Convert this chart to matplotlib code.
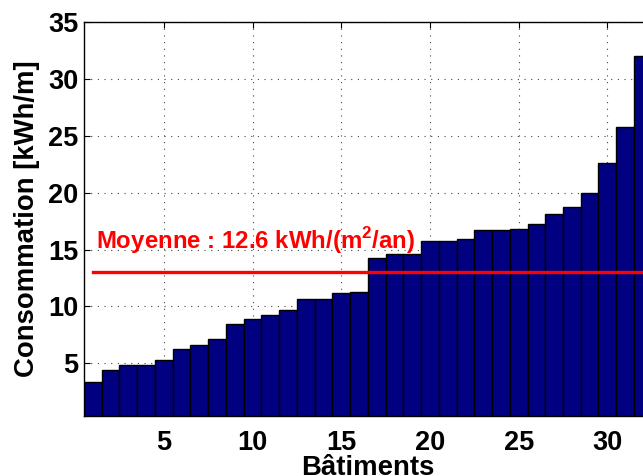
import numpy as np
import matplotlib
matplotlib.use('Agg')
import matplotlib.pyplot as plt

# ── data ────────────────────────────────────────────────────────────────────
batiments = np.arange(1, 33)
consommation = [3.39, 4.41, 4.85, 4.85, 5.32, 6.25, 6.63, 7.13, 8.42, 8.89,
                9.21, 9.65, 10.70, 10.70, 11.14, 11.28, 14.30, 14.59, 14.59, 15.73,
                15.73, 15.90, 16.70, 16.70, 16.78, 17.25, 18.12, 18.74, 19.97, 22.60,
                25.76, 32.00]
moyenne = np.mean(consommation)
label_moyenne = 'Moyenne : 12.6 kWh/(m$^{\\mathbf{2}}$/an)'
xticks = [5, 10, 15, 20, 25, 30]
yticks = [5, 10, 15, 20, 25, 30, 35]

plt.rcParams['font.family'] = ['Liberation Sans', 'DejaVu Sans']
plt.rcParams['mathtext.fontset'] = 'custom'
plt.rcParams['mathtext.bf'] = 'Liberation Sans:bold'

fig = plt.figure(figsize=(6.43, 4.76), dpi=100)
# axes runs past the right edge of the figure, as in the cropped original
ax = fig.add_axes([84 / 643, 1 - 415.7 / 476, 567.7 / 643, (415.7 - 22) / 476])

ax.bar(batiments, consommation, width=1.0, color='#000080',
       edgecolor='black', linewidth=1.0, zorder=2)
ax.plot([batiments[0], batiments[-1]], [moyenne, moyenne],
        color='#ff0000', linewidth=2.4, zorder=3)
ax.text(1.15, 15.1, label_moyenne, color='#ff0000', fontsize=17.3,
        fontweight='bold', va='baseline', ha='left', zorder=4)

ax.set_xlim(0.5, 32.5)
ax.set_ylim(0.4, 35)
ax.set_xticks(xticks)
ax.set_yticks(yticks)
ax.tick_params(direction='in', top=True, right=True, length=4,
               labelsize=19.5, width=0.8)
ax.tick_params(axis='x', pad=10)
ax.tick_params(axis='y', pad=4)
for lab in ax.get_xticklabels() + ax.get_yticklabels():
    lab.set_fontweight('bold')

ax.grid(True, linestyle=(0, (1, 5)), color='#444444', linewidth=0.8)
ax.set_axisbelow(True)
for sp in ax.spines.values():
    sp.set_linewidth(1.0)

ax.set_xlabel('Bâtiments', fontsize=19.8, fontweight='bold', va='baseline')
ax.xaxis.set_label_coords(0.5, -0.151)
ax.set_ylabel('Consommation [kWh/m]', fontsize=19.8, fontweight='bold', va='center')
ax.yaxis.set_label_coords(-0.101, 0.501)

fig.savefig('out.png', dpi=100)
